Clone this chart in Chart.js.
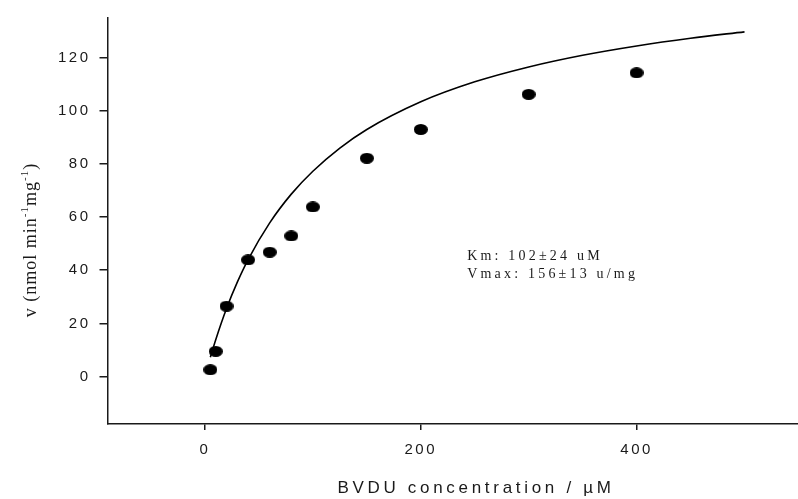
<!DOCTYPE html>
<html>
<head>
<meta charset="utf-8">
<script src="https://cdn.jsdelivr.net/npm/chart.js@4.4.1/dist/chart.umd.min.js"></script>
<style>
  html, body { margin: 0; padding: 0; background: #fff; }
  canvas { display: block; }
</style>
</head>
<body>
<canvas id="chart" width="798" height="499"></canvas>
<script>
// measured points
const BVDU_CONC = [5, 10, 20, 40, 60, 80, 100, 150, 200, 300, 400];
const RATE = [2.6, 9.5, 26.5, 43.9, 46.8, 52.9, 63.8, 82.1, 92.9, 106.1, 114.2];

// fitted curve
const FIT_CONC = [5, 10, 20, 30, 40, 60, 80, 100, 125, 150, 200, 250, 300, 350, 400, 450, 500];
const FIT_RATE = [7.3, 13.9, 25.6, 35.5, 44.0, 57.8, 68.6, 77.2, 85.9, 92.9, 103.3, 110.8, 116.4, 120.8, 124.3, 127.2, 129.6];

const X_TICKS = [0, 200, 400];
const Y_TICKS = [0, 20, 40, 60, 80, 100, 120];
const ANNOTATION = ['Km: 102\u00b124 uM', 'Vmax: 156\u00b113 u/mg'];
const X_TITLE = 'BVDU concentration / \u00b5M';

const AXIS_COLOR = '#1a1a1a';
const TICK_SPACING = '2.5px';

function ellipseDot(w, h) {
  const c = document.createElement('canvas');
  c.width = w;
  c.height = h;
  const g = c.getContext('2d');
  g.fillStyle = '#000';
  g.beginPath();
  g.ellipse(w / 2, h / 2, w / 2, h / 2, 0, 0, Math.PI * 2);
  g.fill();
  return c;
}

// titles + the Km / Vmax box
const textPlugin = {
  id: 'texts',
  beforeLayout(chart) {
    chart.ctx.letterSpacing = TICK_SPACING;
  },
  beforeDraw(chart) {
    chart.ctx.letterSpacing = TICK_SPACING;
  },
  afterDraw(chart) {
    const ctx = chart.ctx;
    const xs = chart.scales.x;
    const ys = chart.scales.y;

    // x title
    ctx.save();
    ctx.fillStyle = AXIS_COLOR;
    ctx.font = '17px "Liberation Sans", Arial, sans-serif';
    ctx.letterSpacing = '3.7px';
    ctx.textAlign = 'center';
    ctx.textBaseline = 'alphabetic';
    ctx.fillText(X_TITLE, 476, 493);
    ctx.restore();

    // y title with superscripts
    ctx.save();
    ctx.fillStyle = AXIS_COLOR;
    ctx.letterSpacing = '1px';
    ctx.translate(36, 240);
    ctx.rotate(-Math.PI / 2);
    const big = '18px "Liberation Serif", "Times New Roman", serif';
    const small = '11px "Liberation Serif", "Times New Roman", serif';
    const parts = [
      ['v (nmol min', big, 0],
      ['-1', small, -8],
      ['mg', big, 0],
      ['-1', small, -8],
      [')', big, 0]
    ];
    let total = 0;
    for (const p of parts) {
      ctx.font = p[1];
      total += ctx.measureText(p[0]).width;
    }
    let cx = -total / 2;
    ctx.textAlign = 'left';
    for (const p of parts) {
      ctx.font = p[1];
      ctx.fillText(p[0], cx, p[2]);
      cx += ctx.measureText(p[0]).width;
    }
    ctx.restore();

    // annotation
    ctx.save();
    ctx.fillStyle = AXIS_COLOR;
    ctx.font = '14px "Liberation Serif", "Times New Roman", serif';
    ctx.letterSpacing = '3.2px';
    ctx.textAlign = 'left';
    const ax = xs.getPixelForValue(243);
    const ay = ys.getPixelForValue(44);
    ANNOTATION.forEach((line, i) => {
      ctx.fillText(line, ax, ay + i * 18);
    });
    ctx.restore();
  }
};

const dot = ellipseDot(14, 11);

const curve = FIT_CONC.map((x, i) => ({ x: x, y: FIT_RATE[i] }));
const points = BVDU_CONC.map((x, i) => ({ x: x, y: RATE[i] }));

const tickFont = { family: '"Liberation Sans", Arial, sans-serif', size: 15 };

new Chart(document.getElementById('chart'), {
  type: 'scatter',
  data: {
    datasets: [
      {
        data: points,
        pointStyle: dot,
        pointRadius: 0.5,
        pointHoverRadius: 0.5,
        pointBorderWidth: 0,
        backgroundColor: '#000',
        borderColor: '#000'
      },
      {
        type: 'line',
        data: curve,
        borderColor: '#000',
        borderWidth: 1.6,
        pointRadius: 0,
        pointHoverRadius: 0,
        cubicInterpolationMode: 'monotone',
        fill: false
      }
    ]
  },
  options: {
    responsive: false,
    devicePixelRatio: 1,
    animation: false,
    layout: { padding: { top: 13, left: 0, right: 0, bottom: 0 } },
    plugins: {
      legend: { display: false },
      tooltip: { enabled: false }
    },
    scales: {
      x: {
        type: 'linear',
        position: 'bottom',
        min: -90.3,
        max: 549.1,
        border: { display: true, color: AXIS_COLOR, width: 1.5 },
        grid: { display: true, drawOnChartArea: false, drawTicks: true, tickLength: 6, color: AXIS_COLOR, lineWidth: 1.5 },
        ticks: { color: AXIS_COLOR, font: tickFont, padding: 11, maxRotation: 0 },
        afterBuildTicks: s => { s.ticks = X_TICKS.map(v => ({ value: v })); },
        afterFit: s => { s.height = 75; }
      },
      y: {
        type: 'linear',
        min: -17.8,
        max: 134.8,
        border: { display: true, color: AXIS_COLOR, width: 1.5 },
        grid: { display: true, drawOnChartArea: false, drawTicks: true, tickLength: 8, color: AXIS_COLOR, lineWidth: 1.5 },
        ticks: { color: AXIS_COLOR, font: tickFont, padding: 9 },
        afterBuildTicks: s => { s.ticks = Y_TICKS.map(v => ({ value: v })); },
        afterFit: s => { s.width = 107.5; }
      }
    }
  },
  plugins: [textPlugin]
});
</script>
</body>
</html>
